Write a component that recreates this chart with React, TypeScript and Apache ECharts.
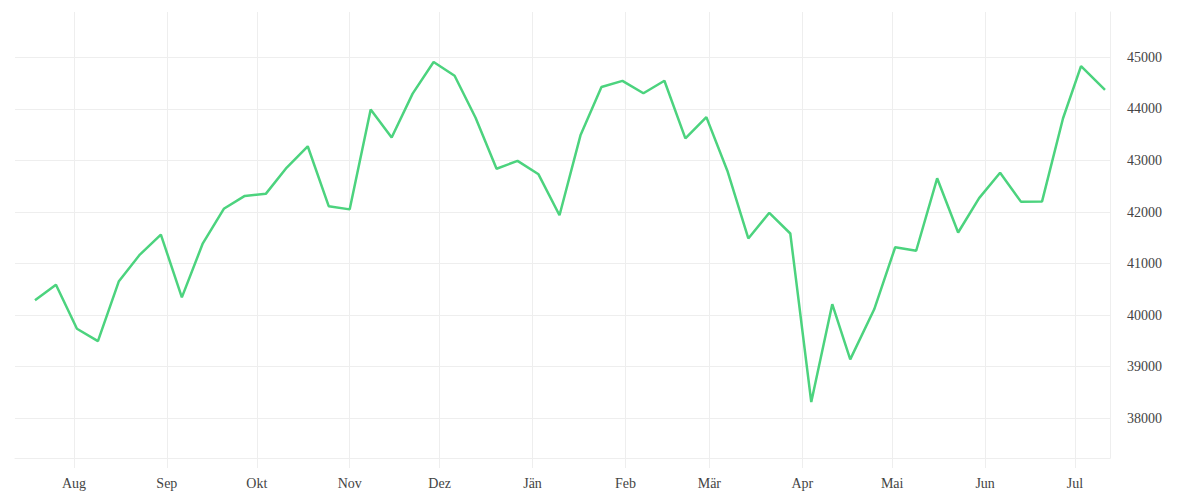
import React, { useEffect, useRef } from "react";
import * as echarts from "echarts";

const dates = [
  "2024-07-19", "2024-07-26", "2024-08-02", "2024-08-09", "2024-08-16", "2024-08-23", "2024-08-30",
  "2024-09-06", "2024-09-13", "2024-09-20", "2024-09-27", "2024-10-04", "2024-10-11", "2024-10-18",
  "2024-10-25", "2024-11-01", "2024-11-08", "2024-11-15", "2024-11-22", "2024-11-29", "2024-12-06",
  "2024-12-13", "2024-12-20", "2024-12-27", "2025-01-03", "2025-01-10", "2025-01-17", "2025-01-24",
  "2025-01-31", "2025-02-07", "2025-02-14", "2025-02-21", "2025-02-28", "2025-03-07", "2025-03-14",
  "2025-03-21", "2025-03-28", "2025-04-04", "2025-04-11", "2025-04-17", "2025-04-25", "2025-05-02",
  "2025-05-09", "2025-05-16", "2025-05-23", "2025-05-30", "2025-06-06", "2025-06-13", "2025-06-20",
  "2025-06-27", "2025-07-03", "2025-07-11",
];

const values = [
  40287.53, 40589.34, 39737.26, 39497.54, 40659.76, 41175.08, 41563.08,
  40345.41, 41393.78, 42063.36, 42313.0, 42352.75, 42863.86, 43275.91,
  42114.4, 42052.19, 43988.99, 43444.99, 44296.51, 44910.65, 44642.52,
  43828.06, 42840.26, 42992.21, 42732.13, 41938.45, 43487.83, 44424.25,
  44544.66, 44303.4, 44546.08, 43428.02, 43840.91, 42801.72, 41488.19,
  41985.35, 41583.9, 38314.86, 40212.71, 39142.23, 40113.5, 41317.43,
  41249.38, 42654.74, 41603.07, 42270.07, 42762.87, 42197.79, 42206.82,
  43819.27, 44828.53, 44371.51,
];

const monthNames = ["Jän", "Feb", "Mär", "Apr", "Mai", "Jun", "Jul", "Aug", "Sep", "Okt", "Nov", "Dez"];

const xMin = "2024-07-12T08:00:00";
const xMax = "2025-07-12T16:00:00";
const yMin = 37230;
const yMax = 45880;

const gridColor = "#eeeeee";
const lineColor = "#4cd37e";
const textColor = "#444444";
const fontFamily = "'Liberation Serif', 'DejaVu Serif', serif";

export default function App() {
  const ref = useRef<HTMLDivElement>(null);

  useEffect(() => {
    if (!ref.current) return;
    const chart = echarts.init(ref.current, null, { renderer: "svg" });
    chart.setOption({
      animation: false,
      backgroundColor: "#ffffff",
      grid: { left: 15, right: 90, top: 12, bottom: 42, containLabel: false },
      xAxis: {
        type: "time",
        min: xMin,
        max: xMax,
        splitNumber: 12,
        axisLine: { show: true, lineStyle: { color: gridColor, width: 1 } },
        axisTick: { show: true, length: 10, lineStyle: { color: gridColor } },
        splitLine: { show: true, showMinLine: false, showMaxLine: true, lineStyle: { color: gridColor, width: 1 } },
        axisLabel: {
          color: textColor,
          fontFamily,
          fontSize: 14,
          margin: 18,
          hideOverlap: false,
          formatter: (v: number) => monthNames[new Date(v).getMonth()],
        },
      },
      yAxis: {
        type: "value",
        position: "right",
        min: yMin,
        max: yMax,
        splitNumber: 8,
        axisLine: { show: true, lineStyle: { color: gridColor } },
        axisTick: { show: false },
        splitLine: { show: true, showMinLine: true, showMaxLine: false, lineStyle: { color: gridColor, width: 1 } },
        axisLabel: {
          color: textColor,
          fontFamily,
          fontSize: 14,
          margin: 17,
          showMinLabel: false,
          showMaxLabel: false,
          formatter: (v: number) => String(v),
        },
      },
      series: [
        {
          type: "line",
          data: dates.map((d, i) => [d, values[i]]),
          symbol: "none",
          lineStyle: { color: lineColor, width: 2.5 },
          itemStyle: { color: lineColor },
        },
      ],
    });
    return () => chart.dispose();
  }, []);

  return (
    <div
      ref={ref}
      style={{ position: "fixed", left: 0, top: 0, width: 1200, height: 500 }}
    />
  );
}
